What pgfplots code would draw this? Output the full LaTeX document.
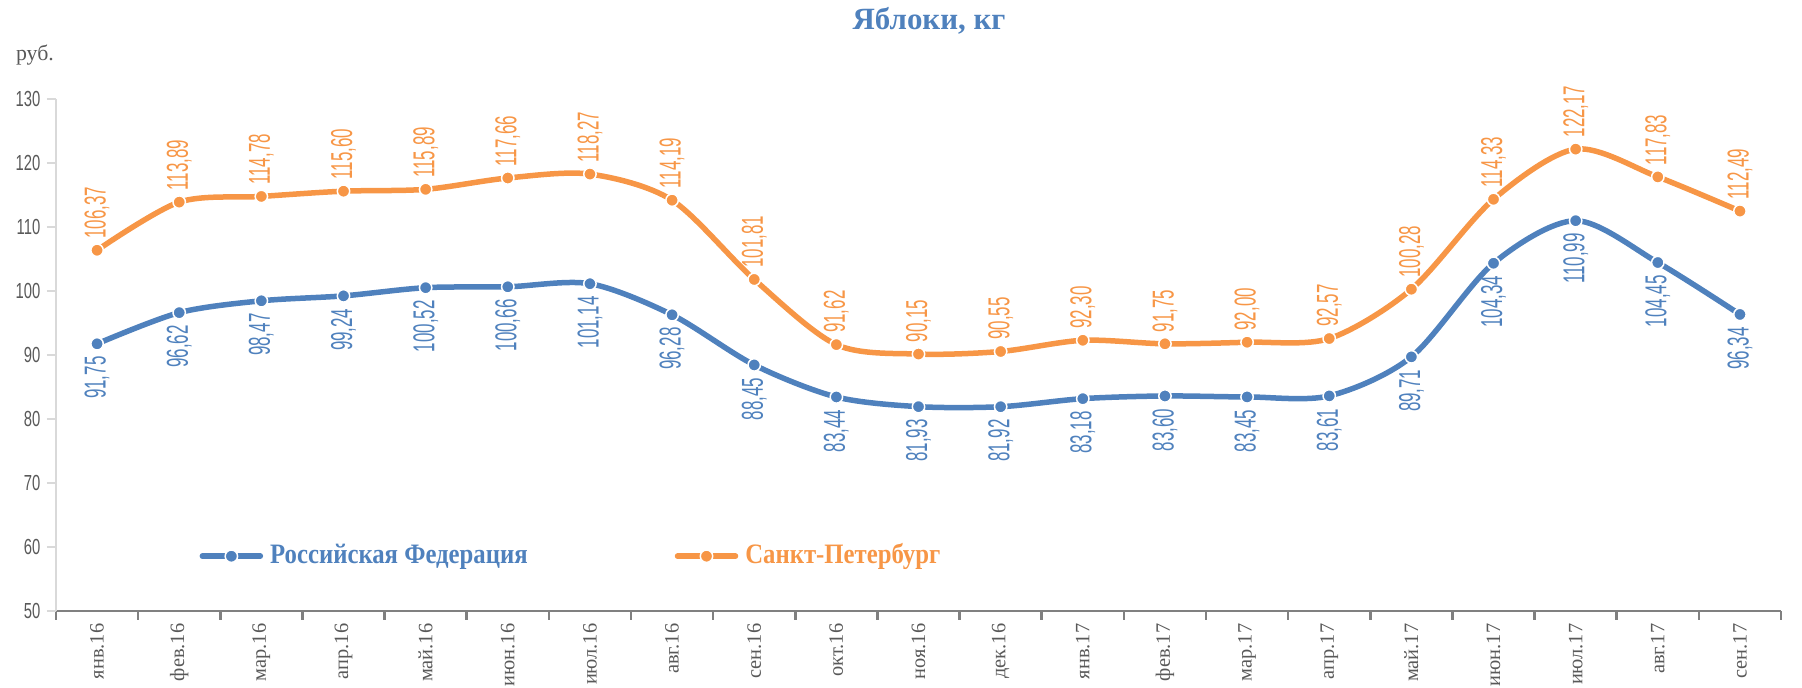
\documentclass[border=0pt]{standalone}
\usepackage{pgfplots}
\pgfplotsset{compat=1.18}
\usepackage{pgfplotstable}
\usepackage{fontspec}
\setmainfont{Liberation Serif}
\newfontfamily\cond[FakeStretch=0.56]{Liberation Sans}
\newfontfamily\condb[FakeStretch=0.68]{Liberation Sans}
\newfontfamily\legfont[FakeStretch=0.88, BoldFont={Liberation Serif Bold}]{Liberation Serif}
\definecolor{cblue}{HTML}{4F81BD}
\definecolor{corange}{HTML}{F79646}
\definecolor{tgray}{HTML}{595959}
\definecolor{xgray}{HTML}{808080}
\definecolor{ygray}{HTML}{D9D9D9}
\pgfplotstableread{
x y lab
0 91.75 91,75
1 96.62 96,62
2 98.47 98,47
3 99.24 99,24
4 100.52 100,52
5 100.66 100,66
6 101.14 101,14
7 96.28 96,28
8 88.45 88,45
9 83.44 83,44
10 81.93 81,93
11 81.92 81,92
12 83.18 83,18
13 83.60 83,60
14 83.45 83,45
15 83.61 83,61
16 89.71 89,71
17 104.34 104,34
18 110.99 110,99
19 104.45 104,45
20 96.34 96,34
}\rf
\pgfplotstableread{
x y lab
0 106.37 106,37
1 113.89 113,89
2 114.78 114,78
3 115.60 115,60
4 115.89 115,89
5 117.66 117,66
6 118.27 118,27
7 114.19 114,19
8 101.81 101,81
9 91.62 91,62
10 90.15 90,15
11 90.55 90,55
12 92.30 92,30
13 91.75 91,75
14 92.00 92,00
15 92.57 92,57
16 100.28 100,28
17 114.33 114,33
18 122.17 122,17
19 117.83 117,83
20 112.49 112,49
}\spb
\begin{document}
\begin{tikzpicture}
\useasboundingbox (0,0) rectangle (180.2mm,68.8mm);
\node[text=cblue, font=\fontsize{8.8pt}{10pt}\selectfont\bfseries] at (92.9mm,66.7mm) {Яблоки, кг};
\node[text=tgray, font=\fontsize{6.2pt}{7pt}\selectfont] at (3.5mm,63.3mm) {руб.};
\begin{axis}[
  at={(5.6mm,7.7mm)}, anchor=south west,
  scale only axis, width=172.5mm, height=51.2mm,
  xmin=-0.5, xmax=20.5, ymin=50, ymax=130,
  ytick={50,60,...,130},
  xtick={0,...,20},
  xticklabels={янв.16,фев.16,мар.16,апр.16,май.16,июн.16,июл.16,авг.16,сен.16,окт.16,ноя.16,дек.16,янв.17,фев.17,мар.17,апр.17,май.17,июн.17,июл.17,авг.17,сен.17},
  minor xtick={-0.5,0.5,...,20.5},
  major x tick style={draw=none},
  minor x tick style={xgray, line width=0.25mm},
  minor tick length=0.9mm,
  ytick style={ygray, line width=0.2mm},
  major tick length=0.9mm,
  tick align=outside,
  axis x line*=bottom, axis y line*=left,
  x axis line style={xgray, line width=0.25mm, -},
  y axis line style={ygray, line width=0.2mm, -},
  xticklabel style={rotate=90, anchor=east, text=tgray, font=\fontsize{5.8pt}{7pt}\selectfont, inner sep=0.3mm},
  yticklabel style={text=tgray, font=\condb\fontsize{6.2pt}{7pt}\selectfont, inner sep=0.6mm},
  /pgf/number format/assume math mode=true,
  legend style={at={(0.3,0.107)}, anchor=center, draw=none, fill=none,
    legend columns=2, font=\legfont\bfseries\fontsize{8pt}{9pt}\selectfont,
    /tikz/every even column/.append style={column sep=14mm},
    inner sep=0pt, cells={anchor=west}},
  legend image code/.code={\draw[#1, mark repeat=2, mark phase=2] plot coordinates {(0mm,0mm) (2.9mm,0mm) (5.8mm,0mm)};},
  clip=false,
  point meta=explicit symbolic,
  nodes near coords,
]
\addplot[cblue, line width=0.55mm, line cap=round, smooth, tension=0.5, mark=*, mark size=0.62mm,
  mark options={fill=cblue, draw=white, line width=0.15mm},
  every node near coord/.append style={rotate=90, anchor=east, font=\cond\fontsize{8.6pt}{9pt}\selectfont, text=cblue, inner xsep=1.2mm, inner ysep=0pt}]
  table[x=x, y=y, meta=lab] {\rf};
\addlegendentry{\textcolor{cblue}{Российская Федерация}}
\addplot[corange, line width=0.55mm, line cap=round, smooth, tension=0.5, mark=*, mark size=0.62mm,
  mark options={fill=corange, draw=white, line width=0.15mm},
  every node near coord/.append style={rotate=90, anchor=west, font=\cond\fontsize{8.6pt}{9pt}\selectfont, text=corange, inner xsep=1.1mm, inner ysep=0pt}]
  table[x=x, y=y, meta=lab] {\spb};
\addlegendentry{\textcolor{corange}{Санкт-Петербург}}
\end{axis}
\end{tikzpicture}
\end{document}
